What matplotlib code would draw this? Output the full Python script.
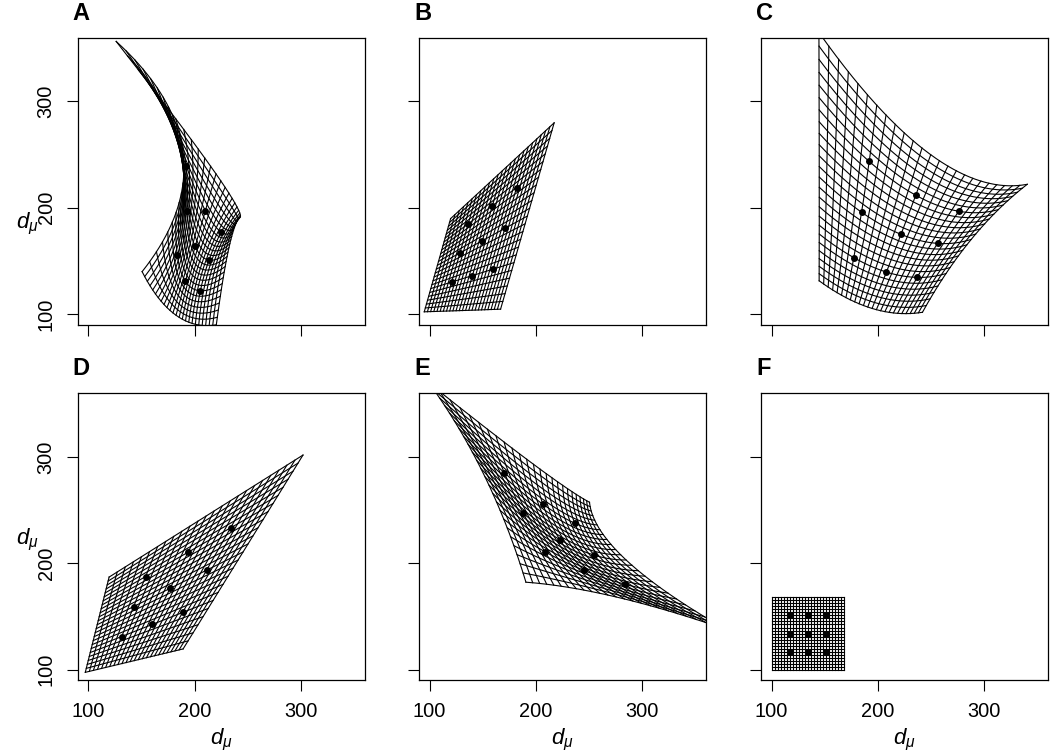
import numpy as np
import matplotlib
matplotlib.use("Agg")
import matplotlib.pyplot as plt

# ---- landmark positions (3x3 per panel), ordered by row (bottom -> top), left -> right ----
A_x = [183.7, 191.3, 205.4, 192.4, 200.5, 213.5, 191.9, 210.1, 225.0]
A_y = [155.4, 130.8, 121.9, 196.8, 163.6, 150.8, 239.6, 197.3, 177.1]
B_x = [120.7, 140.25, 159.8, 128.5, 149.65, 170.8, 136.3, 159.05, 181.8]
B_y = [130.1, 136.2, 142.3, 157.5, 169.08, 180.65, 184.9, 201.95, 219.0]
C_x = [177.3, 208.0, 236.9, 184.6, 221.7, 256.1, 191.8, 235.6, 276.1]
C_y = [153.1, 139.5, 134.5, 195.8, 175.0, 166.5, 243.6, 211.8, 196.7]
D_x = [131.4, 160.05, 188.7, 142.65, 176.95, 211.25, 153.9, 193.85, 233.8]
D_y = [131.2, 142.5, 153.8, 159.4, 176.5, 193.6, 187.6, 210.5, 233.4]
E_x = [208.4, 245.4, 284.0, 188.2, 222.4, 254.6, 170.2, 206.5, 236.5]
E_y = [211.0, 193.3, 180.3, 247.0, 222.4, 207.8, 285.4, 255.7, 237.8]
F_x = [117, 134, 151, 117, 134, 151, 117, 134, 151]
F_y = [117, 117, 117, 134, 134, 134, 151, 151, 151]

panel_names = ["A", "B", "C", "D", "E", "F"]
panel_x = [A_x, B_x, C_x, D_x, E_x, F_x]
panel_y = [A_y, B_y, C_y, D_y, E_y, F_y]

ticks = [100, 200, 300]
tick_labels = ["100", "200", "300"]
axis_label = r"$d_{\mu}$"

N_CELLS = 24          # grid cells per direction
PARAM_MAX = 4.0       # grid spans parameter 0..4, landmarks sit at 1, 2, 3

plt.rcParams["font.family"] = ["Liberation Sans", "DejaVu Sans"]
plt.rcParams["mathtext.fontset"] = "custom"
plt.rcParams["mathtext.rm"] = "Liberation Sans"
plt.rcParams["mathtext.it"] = "Liberation Sans:italic"


def basis(s):
    return np.array([(s - 2) * (s - 3) / 2.0, -(s - 1) * (s - 3), (s - 1) * (s - 2) / 2.0])


def warp(lx, ly, s, t):
    Lx = np.asarray(lx, float).reshape(3, 3)
    Ly = np.asarray(ly, float).reshape(3, 3)
    bs = basis(s)
    bt = basis(t)
    X = np.einsum("vu,un,vn->n", Lx, bs, bt)
    Y = np.einsum("vu,un,vn->n", Ly, bs, bt)
    return X, Y


fig = plt.figure(figsize=(10.5, 7.53), dpi=100)
W, H = 1050.0, 753.0
lefts = [77.7, 419.0, 761.0]
tops = [37.7, 393.3]
size = 287.0
ylabel_y = [224.0, 540.0]

levels = np.linspace(0, PARAM_MAX, N_CELLS + 1)
fine = np.linspace(0, PARAM_MAX, 400)

for k, name in enumerate(panel_names):
    r, c = divmod(k, 3)
    ax = fig.add_axes([lefts[c] / W, (H - tops[r] - size) / H, size / W, size / H])
    for lev in levels:
        X, Y = warp(panel_x[k], panel_y[k], fine, np.full_like(fine, lev))
        ax.plot(X, Y, color="black", lw=0.8)
        X, Y = warp(panel_x[k], panel_y[k], np.full_like(fine, lev), fine)
        ax.plot(X, Y, color="black", lw=0.8)
    ax.plot(panel_x[k], panel_y[k], "o", color="black", ms=5, mew=0, zorder=5)
    ax.set_xlim(90, 360)
    ax.set_ylim(90, 360)
    ax.set_xticks(ticks)
    ax.set_yticks(ticks)
    ax.tick_params(direction="out", length=7.9, width=0.8, labelsize=14.4, pad=8)
    if r == 1:
        ax.set_xticklabels(tick_labels)
        fig.text((lefts[c] + size / 2) / W, (H - 744) / H, axis_label,
                 ha="center", va="baseline", fontsize=16)
    else:
        ax.set_xticklabels([])
    if c == 0:
        ax.set_yticklabels(tick_labels, rotation=90, va="center")
        fig.text(27 / W, (H - ylabel_y[r]) / H, axis_label,
                 ha="center", va="center", fontsize=16)
    else:
        ax.set_yticklabels([])
    for sp in ax.spines.values():
        sp.set_linewidth(0.9)
    fig.text((lefts[c] - 5) / W, (H - tops[r] + 18) / H, name,
             ha="left", va="baseline", fontsize=17, fontweight="bold")

fig.savefig("out.png", dpi=100)
